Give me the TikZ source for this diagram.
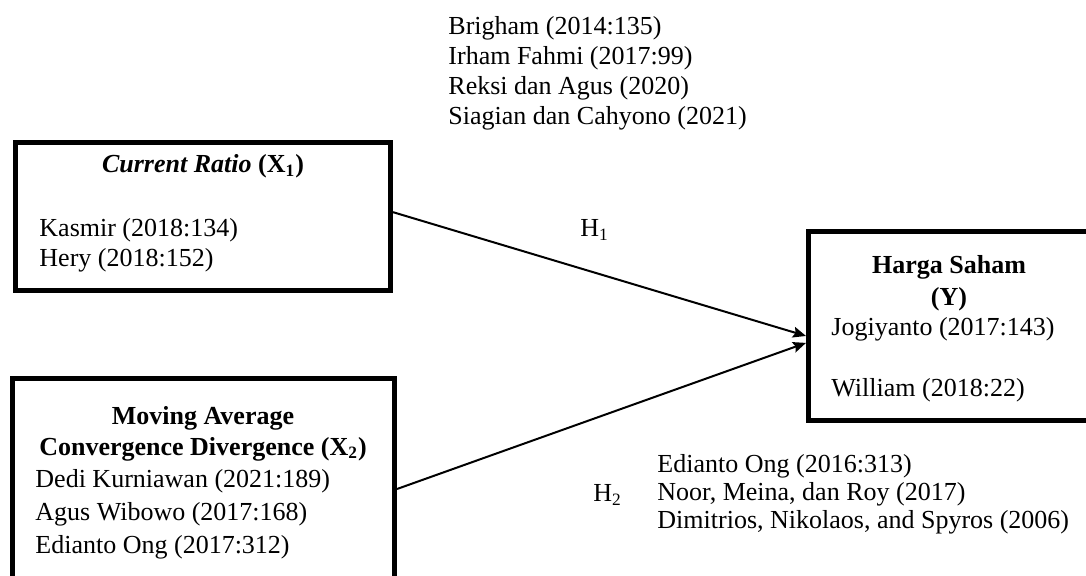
\documentclass[tikz,border=0pt]{standalone}
\usepackage{fontspec}
\setmainfont{Liberation Serif}
\usepackage{tikz}
\usetikzlibrary{arrows.meta,positioning}

\begin{document}
\begin{tikzpicture}[x=0.4615pt, y=-0.4615pt, font=\fontsize{12}{13.85}\selectfont]
% STYLES
\tikzset{%
    varbox/.style={%
    rectangle,
    draw,
    line width=2.3pt,
    inner sep=0pt}
    }
\tikzset{%
    vartitle/.style={%
    anchor=base,
    inner sep=0pt,
    align=center,
    font=\fontsize{12}{15.2}\selectfont\bfseries}
    }
\tikzset{%
    reflist/.style={%
    anchor=base west,
    inner sep=0pt,
    align=left}
    }
\tikzset{%
    hyplabel/.style={%
    anchor=base west,
    inner sep=0pt}
    }
\useasboundingbox (0,0) rectangle (1086,576);

% Draw variables
\node [varbox, minimum width=375*0.4615pt, minimum height=148*0.4615pt] (CR) at (203,216.5) {};
\node [varbox, minimum width=382*0.4615pt, minimum height=221*0.4615pt] (MACD) at (203.5,489) {};
\node [varbox, minimum width=287*0.4615pt, minimum height=189*0.4615pt] (HS) at (952,326) {};

% Draw texts (base = last line)
\node [vartitle] (CRtitle) at (203,173) {\textit{Current Ratio} (X\textsubscript{1})};
\node [reflist, font=\fontsize{12}{13.85}\selectfont] (CRrefs) at (39,267) {Kasmir (2018:134)\\Hery (2018:152)};
\node [vartitle, font=\fontsize{12}{13.85}\selectfont\bfseries] (MACDtitle) at (203,455) {Moving Average\\Convergence Divergence (X\textsubscript{2})};
\node [reflist, font=\fontsize{12}{15.2}\selectfont] (MACDrefs) at (35,553) {Dedi Kurniawan (2021:189)\\Agus Wibowo (2017:168)\\Edianto Ong (2017:312)};
\node [vartitle] (HStitle) at (949,306) {Harga Saham\\(Y)};
\node [reflist, font=\fontsize{12}{14.3}\selectfont] (HSrefs) at (831,397) {Jogiyanto (2017:143)\\[14.3pt]William (2018:22)};
\node [reflist] (TopRefs) at (448,125) {Brigham (2014:135)\\Irham Fahmi (2017:99)\\Reksi dan Agus (2020)\\Siagian dan Cahyono (2021)};
\node [reflist, font=\fontsize{12}{12.9}\selectfont] (H2refs) at (657,528) {Edianto Ong (2016:313)\\Noor, Meina, dan Roy (2017)\\Dimitrios, Nikolaos, and Spyros (2006)};
\node [hyplabel] (H1) at (580,237) {H\textsubscript{1}};
\node [hyplabel] (H2) at (593,502) {H\textsubscript{2}};

% Draw the links between variables
\path[-{Stealth[length=6pt,width=5pt,inset=1pt]}, line width=0.92pt]
([yshift=2pt]CR.east) edge ([yshift=-4.6pt]HS.west)
(MACD.east) edge ([yshift=-7.8pt]HS.west);

\end{tikzpicture}
\end{document}
